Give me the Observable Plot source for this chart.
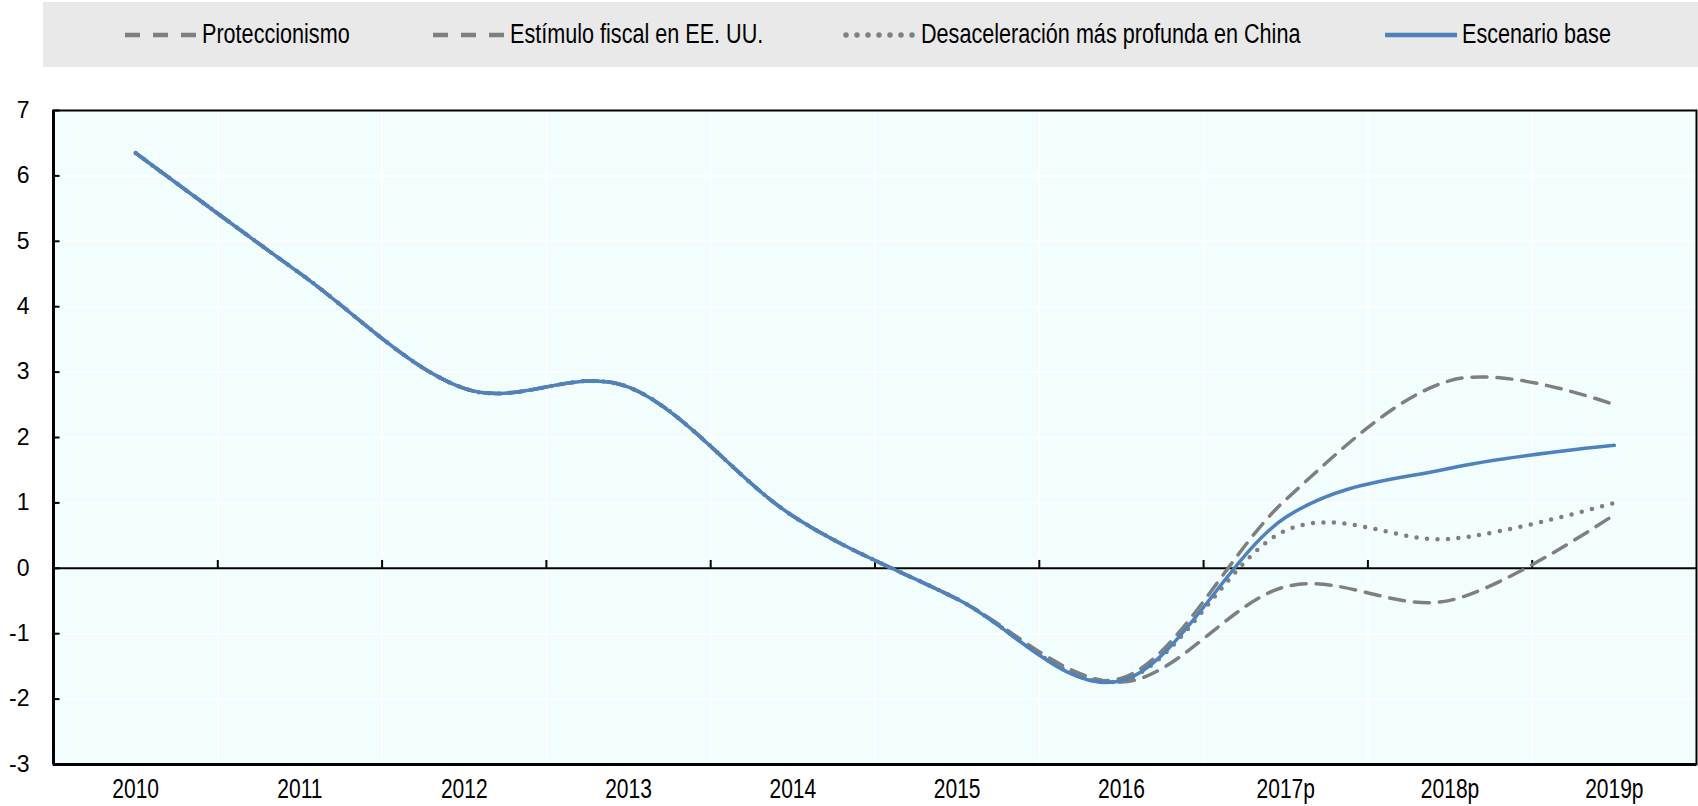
<!DOCTYPE html>
<html>
<head>
<meta charset="utf-8">
<script src="https://cdn.jsdelivr.net/npm/d3@7"></script>
<script src="https://cdn.jsdelivr.net/npm/@observablehq/plot@0.6"></script>
<style>
  html, body { margin: 0; padding: 0; background: #ffffff; }
  body { width: 1698px; height: 806px; overflow: hidden; font-family: "Liberation Sans", Arial, sans-serif; }
  #legend { position: relative; margin-left: 43px; margin-top: 2px; width: 1655px; height: 65px; background: #e9e9e9; }
  .item { position: absolute; top: 0; height: 65px; display: flex; align-items: center; font-size: 27px; color: #000; white-space: nowrap; }
  .item svg { margin-right: 3px; flex: none; }
  .item span { display: inline-block; transform: scaleX(0.80); transform-origin: 0 50%; }
  #chart { margin-top: 2px; }
  #chart svg { font-family: "Liberation Sans", Arial, sans-serif; }
</style>
</head>
<body>
<div id="legend"></div>
<div id="chart"></div>
<script>
// ---- Data ----
const years = ["2010", "2011", "2012", "2013", "2014", "2015", "2016", "2017p", "2018p", "2019p"];
const escenarioBase   = [6.35, 4.51, 2.75, 2.77, 0.80, -0.47, -1.72, 0.78, 1.53, 1.88];
const proteccionismo  = [6.35, 4.51, 2.75, 2.77, 0.80, -0.47, -1.74, -0.28, -0.49, 0.82];
const estimuloFiscal  = [6.35, 4.51, 2.75, 2.77, 0.80, -0.47, -1.68, 1.05, 2.87, 2.50];
const desaceleracionChina = [6.35, 4.51, 2.75, 2.77, 0.80, -0.47, -1.72, 0.58, 0.45, 1.00];
const seriesNames = ["Proteccionismo", "Estímulo fiscal en EE. UU.", "Desaceleración más profunda en China", "Escenario base"];
const yTicks = [-3, -2, -1, 0, 1, 2, 3, 4, 5, 6, 7];

// ---- Styles ----
const GRAY = "#7f7f7f";
const BLUE = "#4f81bd";
const BG = "#f2fefe";
const styles = [
  {stroke: GRAY, strokeWidth: 3.5, strokeDasharray: "15,10"},
  {stroke: GRAY, strokeWidth: 3.5, strokeDasharray: "15,10"},
  {stroke: GRAY, strokeWidth: 4.5, strokeDasharray: "0,10.5", strokeLinecap: "round"},
  {stroke: BLUE, strokeWidth: 3.5}
];
const legendDash = ["15,13", "15,13", "0,11", null];

// ---- Legend ----
const legendLeft = [80, 388, 799, 1340];
const legend = document.getElementById("legend");
seriesNames.forEach((name, k) => {
  const s = styles[k];
  const div = document.createElement("div");
  div.className = "item";
  div.style.left = legendLeft[k] + "px";
  const dash = legendDash[k] ? `stroke-dasharray="${legendDash[k]}"` : "";
  const cap = s.strokeLinecap ? `stroke-linecap="${s.strokeLinecap}"` : "";
  div.innerHTML = `<svg width="76" height="10"><line x1="${s.strokeLinecap ? 4 : 2}" x2="74" y1="5" y2="5" stroke="${s.stroke}" stroke-width="${s.strokeWidth + 1}" ${dash} ${cap}/></svg><span>${name}</span>`;
  legend.appendChild(div);
});

// ---- Table ----
const toRows = (vals) => vals.map((v, i) => ({i, v}));
const allSeries = [proteccionismo, estimuloFiscal, desaceleracionChina, escenarioBase];
const idx = years.map((_, i) => i);
const bounds = idx.slice(1).map(i => i - 0.5);

const lineMarks = allSeries.map((vals, k) =>
  Plot.line(toRows(vals), {x: "i", y: "v", curve: "cardinal", ...styles[k], strokeLinejoin: "round"})
);

const plot = Plot.plot({
  width: 1698,
  height: 737,
  marginTop: 41,
  marginBottom: 42,
  marginLeft: 53,
  marginRight: 2,
  style: {fontSize: "22px", color: "#000", background: "transparent"},
  x: {type: "linear", domain: [-0.5, years.length - 0.5], axis: null, label: null},
  y: {domain: [-3, 7], axis: null, label: null},
  marks: [
    Plot.frame({fill: BG}),
    Plot.gridY(yTicks, {stroke: "white", strokeOpacity: 1, strokeWidth: 1.5}),
    Plot.ruleX(bounds, {x: d => d, stroke: "white", strokeWidth: 1.5}),
    Plot.ruleY([0], {stroke: "black", strokeWidth: 2}),
    Plot.ruleX(bounds, {x: d => d, y1: 0, y2: 0.12, stroke: "black", strokeWidth: 2}),
    Plot.ruleY(yTicks, {y: d => d, x1: -0.5, x2: -0.46, stroke: "black", strokeWidth: 2}),
    ...lineMarks,
    Plot.frame({stroke: "black", strokeWidth: 2}),
    Plot.ruleX([-0.5], {stroke: "black", strokeWidth: 3}),
    Plot.ruleY([-3], {stroke: "black", strokeWidth: 3}),
    Plot.axisY(yTicks, {anchor: "left", label: null, tickSize: 0, tickPadding: 24, fontSize: 23, tickFormat: d => String(d)}),
    Plot.axisX(idx, {anchor: "bottom", label: null, tickSize: 0, tickPadding: 14, fontSize: 28, tickFormat: i => years[i]})
  ]
});
document.getElementById("chart").appendChild(plot);

// condense x-axis labels (narrow typeface look)
plot.querySelectorAll('g[aria-label="x-axis tick label"] text').forEach(t => {
  const w = t.getComputedTextLength();
  t.setAttribute("textLength", (w * 0.75).toFixed(2));
  t.setAttribute("lengthAdjust", "spacingAndGlyphs");
});
</script>
</body>
</html>
